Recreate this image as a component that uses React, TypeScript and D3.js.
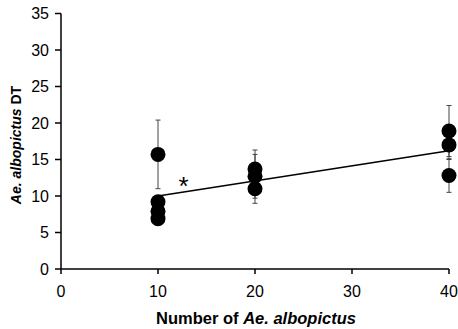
import React from "react";
import * as d3 from "d3";

const groups = [10, 10, 10, 10, 20, 20, 20, 40, 40, 40];
const dtValues = [15.7, 9.2, 7.9, 6.9, 13.7, 12.7, 11.0, 18.9, 17.0, 12.8];
const dtErrors = [4.7, 0.6, 0.6, 0.6, 2.6, 3.0, 2.0, 3.5, 2.0, 2.3];
const xTicks = [0, 10, 20, 30, 40];
const yTicks = [0, 5, 10, 15, 20, 25, 30, 35];
const fitSlope = 0.207;
const fitIntercept = 7.93;
const fitRange = [10, 40];

const W = 458;
const H = 329;
const font = "'Liberation Sans', Arial, sans-serif";

export default function App() {
  const x = d3.scaleLinear().domain([0, 40]).range([61, 449]);
  const y = d3.scaleLinear().domain([0, 35]).range([269, 13.5]);
  const line = d3
    .line<number>()
    .x((d) => x(d))
    .y((d) => y(fitIntercept + fitSlope * d));

  return (
    <svg
      width={W}
      height={H}
      style={{ position: "absolute", left: 0, top: 0, background: "#fff" }}
      fontFamily={font}
    >
      {/* error bars */}
      {dtValues.map((v, i) => {
        const cx = x(groups[i]);
        const y1 = y(v - dtErrors[i]);
        const y2 = y(v + dtErrors[i]);
        return (
          <g key={"e" + i} stroke="#444" strokeWidth={1}>
            <line x1={cx} x2={cx} y1={y1} y2={y2} />
            <line x1={cx - 2.5} x2={cx + 2.5} y1={y1} y2={y1} />
            <line x1={cx - 2.5} x2={cx + 2.5} y1={y2} y2={y2} />
          </g>
        );
      })}
      {/* points */}
      {dtValues.map((v, i) => (
        <circle key={"p" + i} cx={x(groups[i])} cy={y(v)} r={7.5} fill="#000" />
      ))}
      {/* regression line */}
      <path d={line(fitRange) || ""} stroke="#000" strokeWidth={1.6} fill="none" />
      <text x={183.5} y={195} fontSize={26} textAnchor="middle" fill="#000">*</text>

      {/* y axis */}
      <line x1={x(0)} x2={x(0)} y1={y(35)} y2={y(0)} stroke="#000" strokeWidth={1.5} />
      {yTicks.map((t) => (
        <g key={"yt" + t}>
          <line x1={x(0) - 6} x2={x(0)} y1={y(t)} y2={y(t)} stroke="#000" strokeWidth={1.5} />
          <text
            x={x(0) - 12}
            y={y(t)}
            dy="0.36em"
            textAnchor="end"
            fontSize={16}
            fill="#000"
          >
            {t}
          </text>
        </g>
      ))}
      {/* x axis */}
      <line x1={x(0)} x2={x(40)} y1={y(0)} y2={y(0)} stroke="#000" strokeWidth={1.5} />
      {xTicks.map((t) => (
        <g key={"xt" + t}>
          <line x1={x(t)} x2={x(t)} y1={y(0)} y2={y(0) + 5} stroke="#000" strokeWidth={1.5} />
          <text x={x(t)} y={291} dy="0.36em" textAnchor="middle" fontSize={16} fill="#000">
            {t}
          </text>
        </g>
      ))}
      <text
        x={256}
        y={318}
        dy="0.36em"
        textAnchor="middle"
        fontSize={16.5}
        fontWeight="bold"
        fill="#000"
      >
        Number of <tspan fontStyle="italic">Ae. albopictus</tspan>
      </text>
      <text
        transform="translate(16,145) rotate(-90)"
        dy="0.36em"
        textAnchor="middle"
        fontSize={14}
        fontWeight="bold"
        fill="#000"
      >
        <tspan fontStyle="italic">Ae. albopictus</tspan> DT
      </text>
    </svg>
  );
}
